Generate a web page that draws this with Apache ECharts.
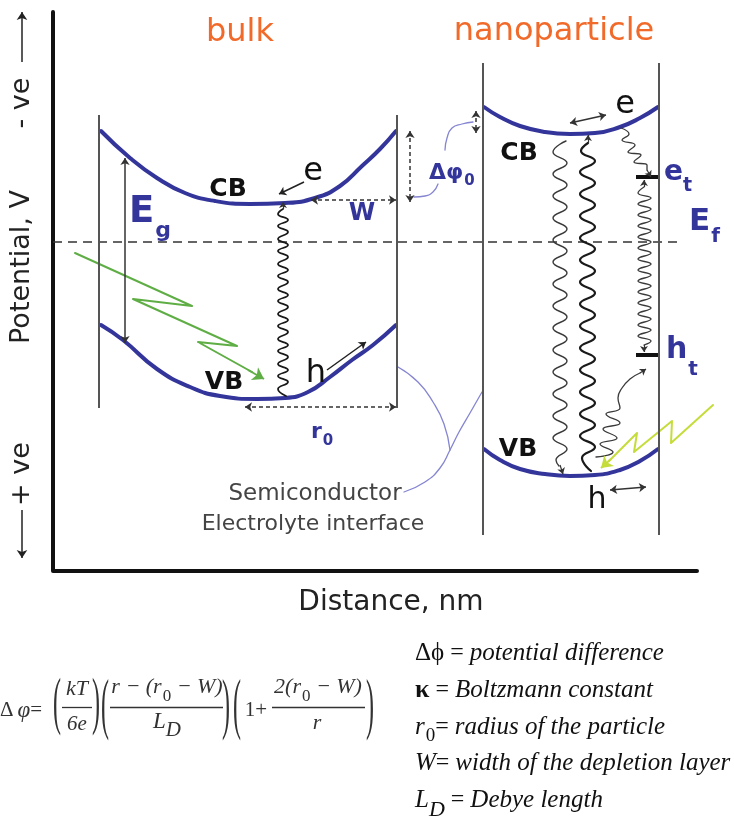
<!DOCTYPE html>
<html><head><meta charset="utf-8">
<script src="https://cdn.jsdelivr.net/npm/echarts@6/dist/echarts.min.js"></script>
<style>html,body{margin:0;padding:0;background:#fff}#c{width:734px;height:817px}</style>
</head><body><div id="c"></div>
<script>
// ---- band curves (distance px, potential px) ----
const bulkCB = [[101,131],[130,158],[157,178],[185,193],[215,201],[250,204],[285,203],[315,198],[340,186],[362,166],[380,149],[396,131]];
const bulkVB = [[101,325],[123,340],[157,369],[190,387],[220,396],[257,399],[285,398],[308,392],[330,377],[352,360],[373,345],[396,325]];
const nanoCB = [[484,107],[500,117],[520,126],[545,132],[570,134],[595,133],[620,127],[640,118],[658,107]];
const nanoVB = [[484,449],[500,460],[520,469],[545,474],[570,476],[595,475],[620,470],[640,461],[658,449]];
// ---- frame & reference lines ----
const axisLine = [[53,12],[53,571],[697,571]];
const fermiLine = [[53,242],[678,242]];
const boundaries = [[[99,115],[99,408]],[[397,115],[397,408]],[[483,63],[483,535]],[[659,63],[659,535]]];
const trapBars = [[[636,177],[658,177]],[[636,355],[658,355]]];
// ---- arrows ----
const doubleArrows = [[[125,158],[125,343]],[[570,123],[606,115]],[[610,490],[646,487]]];
const singleArrows = [[[304,182],[279,194]],[[327,370],[366,342]]];
const axisArrows = [[[22,62],[22,12]],[[22,510],[22,558]]];
const dashedArrows = [[[311,200],[396,200]],[[245,407],[396,407]],[[410,131],[410,202]],[[476,111],[476,133]]];
const squiggleHeads = [[[283,209],[283,202]],[[560,465],[563,474]],[[588,143],[588,135]],[[647,170],[651,177]],[[644,187],[644,180]],[[644,345],[644,352]],[[640,373],[646,369]]];
// ---- photon / transition squiggles ----
const bulkSquiggle = [[283,209],[278,214],[288,220],[278,226],[288,232],[278,239],[288,245],[278,251],[288,257],[278,264],[288,270],[278,276],[288,282],[278,289],[288,295],[278,301],[288,307],[278,314],[288,320],[278,326],[288,332],[278,339],[288,345],[278,351],[288,357],[278,364],[288,370],[278,376],[288,382],[278,389],[286,396]];
const nanoThin = [[566,141],[553,152],[567,163],[553,174],[567,185],[553,196],[567,207],[553,218],[567,229],[553,240],[567,251],[553,262],[567,273],[553,284],[567,295],[553,306],[567,317],[553,328],[567,339],[553,350],[567,361],[553,372],[567,383],[553,394],[567,405],[553,416],[567,427],[553,438],[567,449],[556,460],[559,466]];
const nanoThick = [[588,143],[581,151],[595,161],[580,172],[595,183],[580,194],[595,205],[580,216],[595,227],[580,238],[595,249],[580,260],[595,271],[580,282],[595,293],[580,304],[595,315],[580,326],[595,337],[580,348],[595,359],[580,370],[595,381],[580,392],[595,403],[580,414],[595,425],[580,436],[595,447],[582,458],[591,471]];
const trapSquiggle = [[644,187],[638,193],[651,198],[638,204],[651,209],[638,215],[651,220],[638,226],[651,231],[638,237],[651,242],[638,248],[651,253],[638,259],[651,264],[638,270],[651,275],[638,281],[651,286],[638,292],[651,297],[638,303],[651,308],[638,314],[651,319],[638,325],[651,330],[638,336],[651,341],[644,345]];
const cbTrapSquiggle = [[621,128],[629,134],[622,140],[635,145],[628,152],[641,155],[634,162],[647,165],[647,170]];
const vbTrapSquiggle = [[596,457],[613,452],[600,444],[617,438],[603,429],[620,423],[606,414],[620,408],[618,398],[622,388],[630,379],[640,373]];
const greenBolt = [[75,253],[192,306],[133,299],[237,346],[198,342],[252,372]];
const greenHead = [[[248,370],[264,379]]];
const yellowBolt = [[713,405],[671,443],[672,421],[634,452],[637,433],[609,461]];
const yellowHead = [[[611,459],[601,468]]];
const pointerCurves = [
  [[398,367],[418,382],[433,402],[444,424],[450,450]],
  [[482,392],[470,413],[459,432],[450,450],[440,468],[425,482],[404,492]],
  [[414,197],[425,196],[433,192],[438,184]],
  [[445,150],[447,138],[452,128],[462,124],[473,122]]
];
// formula fraction bars
const fractionBars = [[[62,707],[92,707]],[[110,707],[223,707]],[[272,707],[365,707]]];

const BLUE = '#33359b';
function curve(data, color, width, smooth, extra) {
  return Object.assign({type:'line', data, smooth, symbol:'none', silent:true, z:3,
    lineStyle:{color, width, cap:'round', join:'round'}}, extra || {});
}
function segs(list, color, width, symbol, size, type) {
  return {type:'lines', coordinateSystem:'cartesian2d', silent:true, z:4,
    symbol, symbolSize:size, lineStyle:{color, width, type: type || 'solid', opacity:1},
    data: list.map(c => ({coords:c}))};
}
const series = [
  curve(axisLine, '#111', 4, false),
  curve(fermiLine, '#333', 1.5, false, {lineStyle:{color:'#333', width:1.5, type:[9,6]}}),
  segs(boundaries, '#555', 2, ['none','none'], 1),
  curve(bulkCB, BLUE, 4, true), curve(bulkVB, BLUE, 4, true),
  curve(nanoCB, BLUE, 4, true), curve(nanoVB, BLUE, 4, true),
  curve(bulkSquiggle, '#1a1a1a', 1.8, true),
  curve(nanoThin, '#3a3a3a', 1.4, true),
  curve(nanoThick, '#1a1a1a', 2.2, true),
  curve(trapSquiggle, '#3a3a3a', 1.3, true),
  curve(cbTrapSquiggle, '#3a3a3a', 1.3, true),
  curve(vbTrapSquiggle, '#3a3a3a', 1.3, true),
  curve(greenBolt, '#5fae45', 2, false),
  curve(yellowBolt, '#c6dc3a', 2, false),
  segs(greenHead, '#5fae45', 2, ['none','arrow'], 11),
  segs(yellowHead, '#c6dc3a', 2, ['none','arrow'], 11),
  segs(trapBars, '#111', 4, ['none','none'], 1),
  segs(doubleArrows, '#333', 1.5, ['arrow','arrow'], 7),
  segs(singleArrows, '#222', 1.5, ['none','arrow'], 7),
  segs(axisArrows, '#222', 1.5, ['none','arrow'], 8),
  segs(dashedArrows, '#333', 1.5, ['arrow','arrow'], 7, [4,3]),
  segs(squiggleHeads, '#333', 1.2, ['none','arrow'], 6),
  segs(fractionBars, '#333', 1.3, ['none','none'], 1)
];
pointerCurves.forEach(p => series.push(curve(p, '#8585d2', 1.3, true)));

const SANS = '"DejaVu Sans"';
const SERIF = '"Liberation Serif"';
const mctx = document.createElement('canvas').getContext('2d');
function tw(text, font) { mctx.font = font; return mctx.measureText(text).width; }
function T(text, x, y, font, fill, align, extra) {
  return Object.assign({type:'text', x, y, silent:true, z:10,
    style:{text, font, fill, align: align || 'center', verticalAlign:'middle',
      textAlign: align || 'center', textVerticalAlign:'middle'}}, extra || {});
}
// run of text pieces laid out left to right: [text, font, dy, dx]
function run(pieces, x, y, fill, align) {
  const widths = pieces.map(p => tw(p[0], p[1]) + (p[3] || 0));
  const total = widths.reduce((a, b) => a + b, 0);
  let cx = align === 'center' ? x - total / 2 : x;
  const out = [];
  pieces.forEach((p, i) => {
    out.push(T(p[0], cx + (p[3] || 0), y + (p[2] || 0), p[1], fill, 'left'));
    cx += widths[i];
  });
  return out;
}
const s = (n, b) => (b ? 'bold ' : '') + n + 'px ' + SANS;
const f = (n, it, b) => (it ? 'italic ' : '') + (b ? 'bold ' : '') + n + 'px ' + SERIF;
const graphics = [
  T('bulk', 240, 33, s(32), '#f26a2a'),
  T('nanoparticle', 554, 32, s(32), '#f26a2a'),
  T('Distance, nm', 391, 603, s(28), '#222'),
  T('- ve', 22, 103, s(27), '#222', 'center', {rotation: Math.PI/2}),
  T('Potential, V', 22, 267, s(27), '#222', 'center', {rotation: Math.PI/2}),
  T('+ ve', 22, 474, s(27), '#222', 'center', {rotation: Math.PI/2}),
  T('CB', 228, 189, s(25, 1), '#111'),
  T('VB', 224, 382, s(25, 1), '#111'),
  T('CB', 519, 153, s(25, 1), '#111'),
  T('VB', 518, 449, s(25, 1), '#111'),
  T('e', 313, 172, s(32), '#111'),
  T('h', 316, 374, s(32), '#111'),
  T('e', 625, 105, s(32), '#111'),
  T('h', 597, 500, s(30), '#111'),
  ...run([['E', s(37, 1)], ['g', s(22, 1), 19, 1]], 129, 212, BLUE),
  T('W', 362, 214, s(24, 1), BLUE),
  ...run([['Δφ', s(22, 1)], ['0', s(15, 1), 8, 1]], 429, 173, BLUE),
  ...run([['r', s(22, 1)], ['0', s(15, 1), 9, 1]], 311, 432, BLUE),
  ...run([['e', s(28, 1)], ['t', s(19, 1), 13, 0]], 664, 173, BLUE),
  ...run([['E', s(31, 1)], ['f', s(20, 1), 15, 1]], 689, 222, BLUE),
  ...run([['h', s(30, 1)], ['t', s(20, 1), 20, 1]], 666, 350, BLUE),
  T('Semiconductor', 315, 494, s(23), '#444'),
  T('Electrolyte interface', 313, 524, s(22), '#444'),
  // formula
  ...run([['Δ', f(21)], ['φ', f(23, 1), 1, 4], ['=', f(21), 0, 0]], 0, 710, '#333'),
  T('(', 57, 706, f(24), '#333', 'center', {scaleY: 2.6}),
  T('kT', 77, 689, f(22, 1), '#333'),
  T('6e', 77, 724, f(21, 1), '#333'),
  T(')', 96, 706, f(24), '#333', 'center', {scaleY: 2.6}),
  T('(', 105, 708, f(24), '#333', 'center', {scaleY: 2.8}),
  ...run([['r − (r', f(22, 1)], ['0', f(17), 10, 1], [' − W)', f(22, 1)]], 167, 687, '#333', 'center'),
  ...run([['L', f(23, 1)], ['D', f(21, 1), 8, 0]], 167, 722, '#333', 'center'),
  T(')', 226, 708, f(24), '#333', 'center', {scaleY: 2.8}),
  T('(', 237, 708, f(24), '#333', 'center', {scaleY: 2.8}),
  T('1+', 256, 710, f(21), '#333'),
  ...run([['2(r', f(22, 1)], ['0', f(17), 10, 1], [' − W)', f(22, 1)]], 318, 687, '#333', 'center'),
  T('r', 317, 723, f(22, 1), '#333'),
  T(')', 370, 708, f(24), '#333', 'center', {scaleY: 2.8}),
  // legend
  ...run([['Δϕ', f(25)], [' = ', f(24)], ['potential difference', f(25, 1)]], 415, 653, '#111'),
  ...run([['κ', f(26, 0, 1)], [' = ', f(24)], ['Boltzmann constant', f(25, 1)]], 415, 690, '#111'),
  ...run([['r', f(25, 1)], ['0', f(19), 9, 1], ['= ', f(24)], ['radius of the particle', f(25, 1)]], 415, 727, '#111'),
  ...run([['W', f(25, 1)], ['= ', f(24)], ['width of the depletion layer', f(25, 1)]], 415, 763, '#111'),
  ...run([['L', f(25, 1)], ['D', f(22, 1), 10, 0], [' = ', f(24)], ['Debye length', f(25, 1)]], 415, 800, '#111')
];

const chart = echarts.init(document.getElementById('c'), null, {renderer:'canvas'});
chart.setOption({
  animation:false,
  backgroundColor:'#fff',
  grid:{left:0, right:0, top:0, bottom:0},
  xAxis:{type:'value', min:0, max:734, show:false},
  yAxis:{type:'value', min:0, max:817, inverse:true, show:false},
  series,
  graphic: graphics
});
</script></body></html>
